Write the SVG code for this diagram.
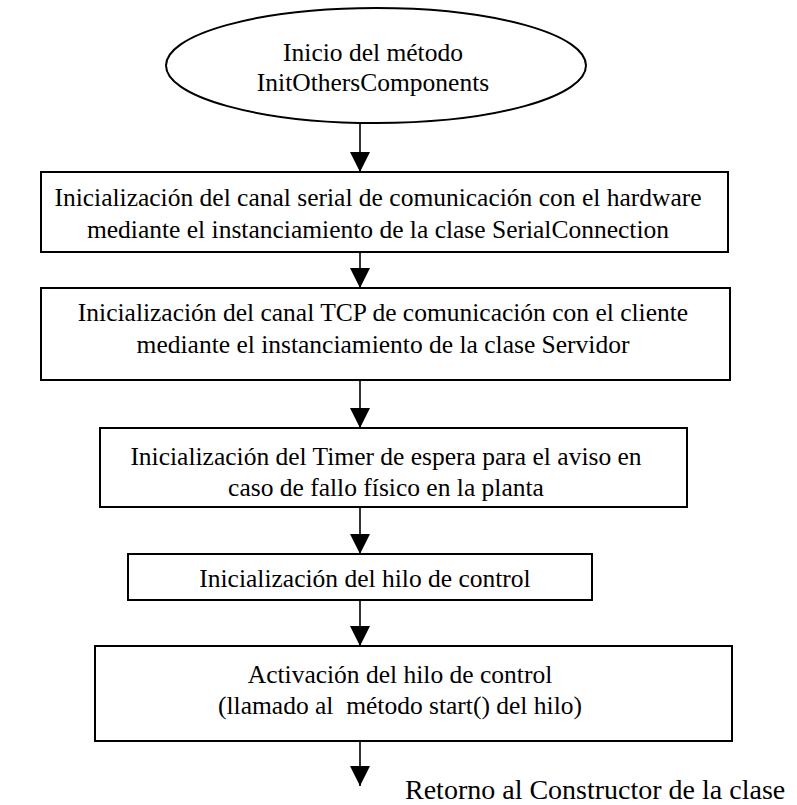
<svg xmlns="http://www.w3.org/2000/svg" width="797" height="805" viewBox="0 0 797 805">
  <style>
    .shape { fill: #ffffff; stroke: #000000; stroke-width: 2; }
    .label { font-family: "Liberation Serif", "Times New Roman", serif; font-size: 25.5px; fill: #000000; text-anchor: middle; }
    .edge { stroke: #000000; stroke-width: 1.6; fill: none; marker-end: url(#head); }
  </style>
  <defs>
    <marker id="head" markerUnits="userSpaceOnUse" markerWidth="22" markerHeight="22" viewBox="0 0 22 20" refX="20" refY="10" orient="auto">
      <path d="M0,0 L20,10 L0,20 Z" fill="#000000"/>
    </marker>
  </defs>
  <rect width="797" height="805" fill="#ffffff"/>

  <g id="connectors">
    <line class="edge" x1="360" y1="123" x2="360" y2="172"/>
    <line class="edge" x1="360" y1="252" x2="360" y2="288"/>
    <line class="edge" x1="360" y1="380" x2="360" y2="428"/>
    <line class="edge" x1="360" y1="507" x2="360" y2="554"/>
    <line class="edge" x1="360" y1="600" x2="360" y2="646"/>
    <line class="edge" x1="360" y1="741" x2="360" y2="786"/>
  </g>

  <g id="start">
    <ellipse class="shape" cx="376" cy="65.5" rx="210" ry="57.5"/>
    <text class="label" x="373" y="61">Inicio del método</text>
    <text class="label" x="373" y="91">InitOthersComponents</text>
  </g>

  <g id="serial">
    <rect class="shape" x="41" y="172" width="687" height="80"/>
    <text class="label" x="378" y="206">Inicialización del canal serial de comunicación con el hardware</text>
    <text class="label" x="378" y="238">mediante el instanciamiento de la clase SerialConnection</text>
  </g>

  <g id="tcp">
    <rect class="shape" x="41" y="288" width="689" height="92"/>
    <text class="label" x="383" y="321">Inicialización del canal TCP de comunicación con el cliente</text>
    <text class="label" x="383" y="353">mediante el instanciamiento de la clase Servidor</text>
  </g>

  <g id="timer">
    <rect class="shape" x="100" y="428" width="587" height="79"/>
    <text class="label" x="386" y="465">Inicialización del Timer de espera para el aviso en</text>
    <text class="label" x="386" y="496">caso de fallo físico en la planta</text>
  </g>

  <g id="thread-init">
    <rect class="shape" x="128" y="554" width="464" height="46"/>
    <text class="label" x="365" y="587">Inicialización del hilo de control</text>
  </g>

  <g id="thread-start">
    <rect class="shape" x="95" y="646" width="637" height="95"/>
    <text class="label" x="400" y="683">Activación del hilo de control</text>
    <text class="label" x="400" y="714" xml:space="preserve">(llamado al  método start() del hilo)</text>
  </g>

  <g id="end">
    <text class="label" x="405" y="799" style="text-anchor:start;font-size:28px">Retorno al Constructor de la clase</text>
  </g>
</svg>
